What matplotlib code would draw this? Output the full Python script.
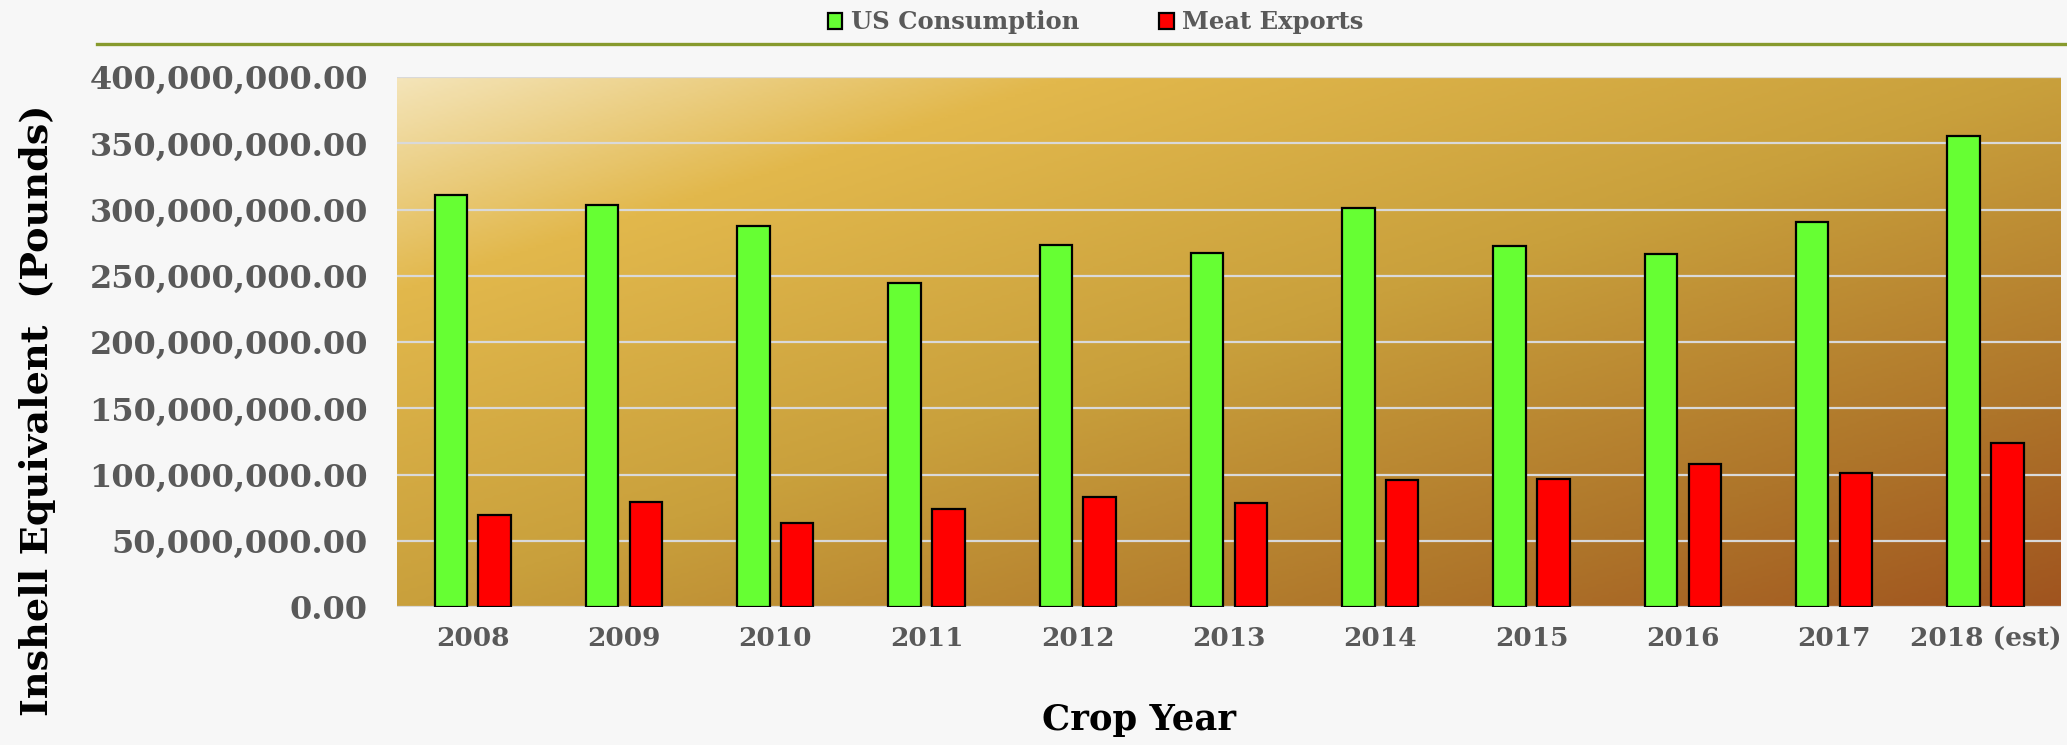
import matplotlib
matplotlib.use("Agg")
import matplotlib.pyplot as plt
import numpy as np
from matplotlib.colors import LinearSegmentedColormap
from matplotlib.lines import Line2D
from matplotlib.ticker import FuncFormatter, MultipleLocator

# crop years and series (pounds, inshell equivalent)
years = ["2008", "2009", "2010", "2011", "2012", "2013",
         "2014", "2015", "2016", "2017", "2018 (est)"]
us_consumption = [311.0e6, 303.6e6, 287.5e6, 244.8e6, 273.2e6, 266.9e6,
                  301.4e6, 272.7e6, 266.7e6, 290.6e6, 355.7e6]
meat_exports = [69.4e6, 79.2e6, 63.6e6, 74.2e6, 82.8e6, 78.7e6,
                95.8e6, 96.8e6, 108.2e6, 100.9e6, 123.5e6]

plt.rcParams["font.family"] = ["DejaVu Serif"]
plt.rcParams["font.weight"] = "bold"

fig = plt.figure(figsize=(20.67, 7.45), dpi=100, facecolor="#f7f7f7")
ax = fig.add_axes([0.1921, 0.1852, 0.805, 0.7114])

# diagonal gold/brown gradient for the plot area
grad_cmap = LinearSegmentedColormap.from_list(
    "gold",
    [(0.0, "#f4e4b8"), (0.2, "#e2b84c"), (0.5, "#c9a03c"),
     (0.8, "#ae752a"), (1.0, "#a0541f")],
)
gx, gy = np.meshgrid(np.linspace(0, 1, 400), np.linspace(0, 1, 200))
ax.imshow((gx + gy) / 2, cmap=grad_cmap, extent=[0, 1, 0, 1],
          transform=ax.transAxes, aspect="auto", zorder=0,
          interpolation="bilinear")

x = np.arange(len(years))
w = 0.215
ax.bar(x - 0.145, us_consumption, w, color="#66ff33", edgecolor="black",
       linewidth=1.6, zorder=3, label="US Consumption")
ax.bar(x + 0.145, meat_exports, w, color="#ff0000", edgecolor="black",
       linewidth=1.6, zorder=3, label="Meat Exports")

ax.set_xlim(-0.5, len(years) - 0.5)
ax.set_ylim(0, 400e6)
ax.yaxis.set_major_locator(MultipleLocator(50e6))
ax.yaxis.set_major_formatter(FuncFormatter(lambda v, p: f"{v:,.2f}"))
ax.grid(axis="y", color="#d9d9d9", linewidth=1.6, zorder=1)
ax.set_axisbelow(True)
for s in ax.spines.values():
    s.set_visible(False)

ax.set_xticks(x)
ax.set_xticklabels(years)
ax.tick_params(axis="x", length=0, pad=14, labelsize=19, labelcolor="#595959")
ax.tick_params(axis="y", length=0, pad=21, labelsize=23, labelcolor="#595959")

fig.text(0.018, 0.449, "Inshell Equivalent  (Pounds)", rotation=90,
         ha="center", va="center", fontsize=27.5, fontweight="bold", color="black")
fig.text(0.551, 0.033, "Crop Year", ha="center", va="center",
         fontsize=25.5, fontweight="bold", color="black")

# legend on top with olive rule underneath
fig.legend(loc="center", bbox_to_anchor=(0.530, 0.970), ncol=2, frameon=False,
           fontsize=17.5, labelcolor="#595959", handlelength=0.6,
           handleheight=0.65, handletextpad=0.35, columnspacing=3.3)
fig.add_artist(Line2D([97 / 2067, 1.0], [1 - 44 / 745, 1 - 44 / 745],
                      color="#879a2d", linewidth=2.4, transform=fig.transFigure))

fig.savefig("out.png", dpi=100, facecolor=fig.get_facecolor())
